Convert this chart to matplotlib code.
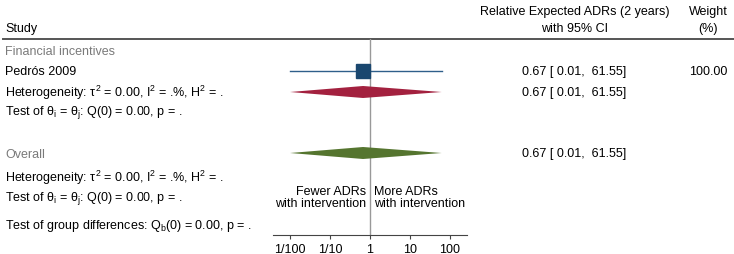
import numpy as np
import matplotlib
matplotlib.use("Agg")
import matplotlib.pyplot as plt
from matplotlib.patches import Polygon

plt.rcParams['font.family'] = ['Liberation Sans', 'DejaVu Sans']
plt.rcParams['mathtext.fontset'] = 'custom'
plt.rcParams['mathtext.rm'] = 'Liberation Sans'
plt.rcParams['mathtext.it'] = 'Liberation Sans'
plt.rcParams['mathtext.bf'] = 'Liberation Sans:bold'

# ---- data ----
study_labels = ["Pedrós 2009"]
study_est = [0.67]
study_lo = [0.01]
study_hi = [61.55]
study_weight = ["100.00"]
group_est, group_lo, group_hi = 0.67, 0.01, 61.55
overall_est, overall_lo, overall_hi = 0.67, 0.01, 61.55
tick_vals = [0.01, 0.1, 1, 10, 100]
tick_labels = ["1/100", "1/10", "1", "10", "100"]

W, H = 734, 255
fig = plt.figure(figsize=(W / 100, H / 100), dpi=100)

# overlay axes in pixel coords for text
tx = fig.add_axes([0, 0, 1, 1])
tx.set_xlim(0, W)
tx.set_ylim(H, 0)
tx.axis('off')

fs = 9
def T(x, y, s, ha='left', color='black', **kw):
    tx.text(x, y, s, ha=ha, va='center', fontsize=fs, color=color, **kw)

T(5, 29, "Study")
T(575, 12, "Relative Expected ADRs (2 years)", ha='center')
T(575, 29, "with 95% CI", ha='center')
T(708, 12, "Weight", ha='center')
T(708, 29, "(%)", ha='center')
tx.plot([3, W], [40, 40], color='#555555', lw=1.4)

T(5, 52, "Financial incentives", color='#7a7a7a')
T(5, 72, study_labels[0])
T(5, 93, r"Heterogeneity: $\tau^2$ = 0.00, I$^2$ = .%, H$^2$ = .")
T(5, 113, r"Test of $\theta_{i}$ = $\theta_{j}$: Q(0) = 0.00, p = .")
T(5, 155, "Overall", color='#7a7a7a')
T(5, 178, r"Heterogeneity: $\tau^2$ = 0.00, I$^2$ = .%, H$^2$ = .")
T(5, 199, r"Test of $\theta_{i}$ = $\theta_{j}$: Q(0) = 0.00, p = .")
T(5, 226, r"Test of group differences: Q$_{b}$(0) = 0.00, p = .")

def ci_txt(e, l, h):
    return f"{e:.2f} [ {l:.2f},  {h:.2f}]"

T(574, 72, ci_txt(study_est[0], study_lo[0], study_hi[0]), ha='center')
T(708, 72, study_weight[0], ha='center')
T(574, 93, ci_txt(group_est, group_lo, group_hi), ha='center')
T(574, 154, ci_txt(overall_est, overall_lo, overall_hi), ha='center')

T(366, 192, "Fewer ADRs", ha='right')
T(366, 204, "with intervention", ha='right')
T(374, 192, "More ADRs", ha='left')
T(374, 204, "with intervention", ha='left')

# plot axes
ax = fig.add_axes([273 / W, (H - 236) / H, 194 / W, 196 / H])
ax.set_xscale('log')
ax.set_xlim(10 ** -2.425, 10 ** 2.425)
ax.set_ylim(236, 40)
ax.patch.set_alpha(0)
for s in ['top', 'left', 'right']:
    ax.spines[s].set_visible(False)
ax.spines['bottom'].set_color('#444444')
ax.spines['bottom'].set_linewidth(0.8)
ax.set_yticks([])
ax.set_xticks(tick_vals)
ax.set_xticklabels(tick_labels)
ax.minorticks_off()
ax.tick_params(axis='x', length=3, width=0.8, color='#444444', labelsize=fs, pad=3)
ax.axvline(1, color='#999999', lw=1, zorder=1)

ax.plot([study_lo[0], study_hi[0]], [72, 72], color='#2f5f8a', lw=1, zorder=2)
ax.plot([study_est[0]], [72], marker='s', ms=10, color='#1a476f', zorder=3, linestyle='none')

def diamond(e, l, h, y, color):
    pts = [(l, y), (e, y - 6), (h, y), (e, y + 6)]
    ax.add_patch(Polygon(pts, closed=True, facecolor=color, edgecolor='none', zorder=3))

diamond(group_est, group_lo, group_hi, 93, '#a3213f')
diamond(overall_est, overall_lo, overall_hi, 154, '#55752f')

fig.savefig("out.png", dpi=100)
